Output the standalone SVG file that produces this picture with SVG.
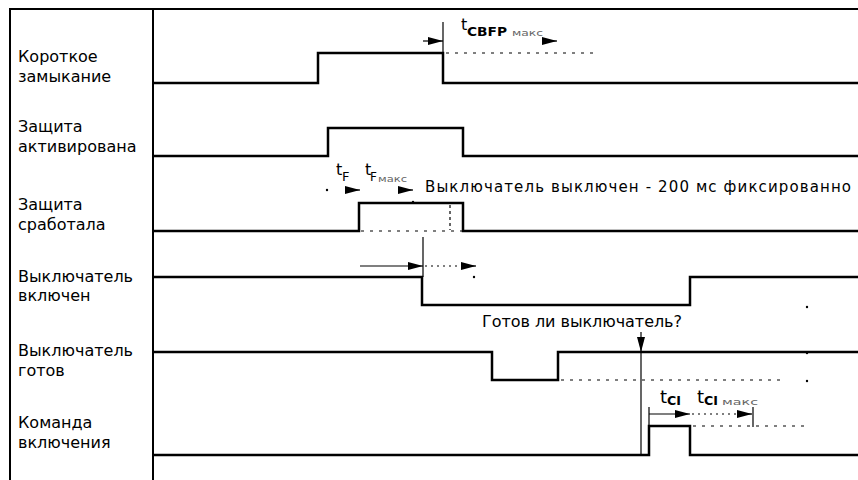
<svg xmlns="http://www.w3.org/2000/svg" width="858" height="480" viewBox="0 0 858 480">
<style>
.frame{stroke:#000;stroke-width:2;fill:none}
.sig{stroke:#000;stroke-width:2.5;fill:none;stroke-linejoin:miter}
.thin{stroke:#000;stroke-width:1.2;fill:none}
.dot{stroke:#000;stroke-width:1.2;fill:none;stroke-dasharray:3 6}
.fdot{stroke:#000;stroke-width:1.2;fill:none;stroke-dasharray:2 4}
.lbl{font-family:"DejaVu Sans","Liberation Sans",sans-serif;font-size:16px;fill:#000}
.t{font-family:"DejaVu Sans","Liberation Sans",sans-serif;fill:#000}
.sub{font-family:"DejaVu Sans","Liberation Sans",sans-serif;font-weight:bold;fill:#000}
.mx{font-family:"DejaVu Sans","Liberation Sans",sans-serif;font-size:8px;fill:#666}
.spk{fill:#000}
</style>
<defs>
<marker id="ah" markerUnits="userSpaceOnUse" markerWidth="15" markerHeight="8" refX="15" refY="4" orient="auto">
<path d="M0,0 L15,4 L0,8 z" fill="#000"/>
</marker>
</defs>
<rect width="858" height="480" fill="#fff"/>
<g id="frame">
<path class="frame" d="M10,480 V9 H858"/>
<path class="frame" d="M153,9 V480"/>
</g>
<g id="row1">
<text class="lbl" x="18" y="62">Короткое</text>
<text class="lbl" x="18" y="82">замыкание</text>
<path class="sig" d="M153,83 H318 V53 H443 V83 H858"/>
</g>
<g id="row2">
<text class="lbl" x="18" y="132">Защита</text>
<text class="lbl" x="18" y="152">активирована</text>
<path class="sig" d="M153,156 H328 V128 H463 V156 H858"/>
</g>
<g id="row3">
<text class="lbl" x="18" y="210">Защита</text>
<text class="lbl" x="18" y="230">сработала</text>
<path class="sig" d="M153,231 H359 V203 H463 V231 H858"/>
</g>
<g id="row4">
<text class="lbl" x="18" y="282">Выключатель</text>
<text class="lbl" x="18" y="301">включен</text>
<path class="sig" d="M153,277 H422 V305 H690 V277 H858"/>
</g>
<g id="row5">
<text class="lbl" x="18" y="356">Выключатель</text>
<text class="lbl" x="18" y="376">готов</text>
<path class="sig" d="M153,352 H492 V380 H558 V352 H858"/>
</g>
<g id="row6">
<text class="lbl" x="18" y="428">Команда</text>
<text class="lbl" x="18" y="448">включения</text>
<path class="sig" d="M153,455 H649 V426 H690 V455 H858"/>
</g>
<g id="connectors">
<line class="thin" x1="443" y1="22" x2="443" y2="83"/>
<line class="thin" x1="423" y1="41" x2="443" y2="41" marker-end="url(#ah)"/>
<line class="thin" x1="543" y1="41" x2="557" y2="41" marker-end="url(#ah)"/>
<path class="dot" d="M446,53 H597"/>
<line class="thin" x1="345" y1="190" x2="360" y2="190" marker-end="url(#ah)"/>
<line class="thin" x1="398" y1="190" x2="413" y2="190" marker-end="url(#ah)"/>
<path class="dot" d="M361,231 H463" stroke-dasharray="3 4"/>
<path class="thin" d="M450,205 V230" stroke-dasharray="3 3"/>
<line class="thin" x1="423" y1="237" x2="423" y2="277"/>
<line class="thin" x1="360" y1="266" x2="423" y2="266" marker-end="url(#ah)"/>
<path class="fdot" d="M425,266 H462"/>
<line class="thin" x1="461" y1="266" x2="476" y2="266" marker-end="url(#ah)"/>
<path class="dot" d="M561,380 H782"/>
<line class="thin" x1="641" y1="332" x2="641" y2="352" marker-end="url(#ah)"/>
<line class="thin" x1="641" y1="352" x2="641" y2="455"/>
<line class="thin" x1="649" y1="407" x2="649" y2="426"/>
<line class="thin" x1="649" y1="414" x2="690" y2="414" marker-end="url(#ah)"/>
<path class="fdot" d="M692,414 H738"/>
<line class="thin" x1="738" y1="414" x2="752" y2="414" marker-end="url(#ah)"/>
<line class="thin" x1="753" y1="407" x2="753" y2="427"/>
<path class="dot" d="M693,426 H805"/>
<circle class="spk" cx="327" cy="190" r="1.2"/>
<circle class="spk" cx="413" cy="202" r="1.2"/>
<circle class="spk" cx="474" cy="277" r="1.2"/>
<circle class="spk" cx="807" cy="307" r="1.2"/>
<circle class="spk" cx="807" cy="353" r="1.2"/>
<circle class="spk" cx="807" cy="381" r="1.2"/>
</g>
<g id="annotations">
<text class="t" x="461" y="30" font-size="16">t</text>
<text class="sub" x="467" y="36" font-size="12" textLength="40" lengthAdjust="spacingAndGlyphs">CBFP</text>
<text class="mx" x="512" y="36" textLength="31" lengthAdjust="spacingAndGlyphs">макс</text>
<text class="t" x="336" y="175" font-size="16">t</text>
<text class="t" x="342" y="181" font-size="13">F</text>
<text class="t" x="365" y="175" font-size="16">t</text>
<text class="t" x="370" y="181" font-size="12">F</text>
<text class="mx" x="378" y="182" textLength="29" lengthAdjust="spacingAndGlyphs">макс</text>
<text class="t" x="425" y="192" font-size="15" textLength="426" lengthAdjust="spacing">Выключатель выключен - 200 мс фиксированно</text>
<text class="t" x="482" y="327" font-size="16" textLength="200" lengthAdjust="spacing">Готов ли выключатель?</text>
<text class="t" x="660" y="403" font-size="18">t</text>
<text class="sub" x="667" y="405" font-size="13" textLength="14" lengthAdjust="spacingAndGlyphs">CI</text>
<text class="t" x="697" y="403" font-size="18">t</text>
<text class="sub" x="704" y="405" font-size="13" textLength="14" lengthAdjust="spacingAndGlyphs">CI</text>
<text class="mx" x="722" y="405" textLength="36" lengthAdjust="spacingAndGlyphs">макс</text>
</g>
</svg>
